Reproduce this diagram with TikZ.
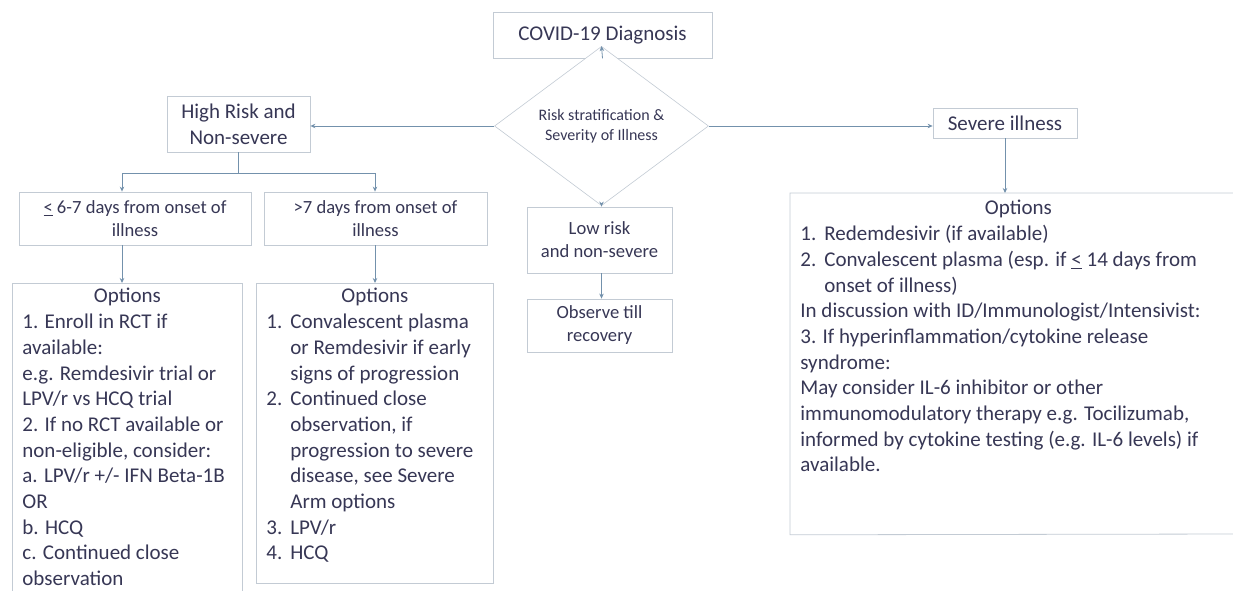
\documentclass[tikz,border=0pt]{standalone}
\usepackage{fontspec}
\setmainfont{Carlito}
\usetikzlibrary{shapes.geometric,arrows.meta}
\definecolor{txtcol}{RGB}{55,55,85}
\definecolor{boxcol}{RGB}{195,203,212}
\definecolor{linecol}{RGB}{115,145,172}
\newcommand\optfont{\fontsize{21}{25.7}\selectfont\color{txtcol}}
\newcommand\num[1]{\makebox[24pt][l]{#1}}
\begin{document}
\begin{tikzpicture}[x=1pt,y=-1pt,
  box/.style={draw=boxcol, line width=0.8pt, fill=white, text=txtcol, align=center, inner sep=0pt},
  big/.style={font=\fontsize{21}{25.7}\selectfont},
  mid/.style={font=\fontsize{18.6}{23}\selectfont},
  optbox/.style={box, anchor=north west, inner xsep=10pt, inner ysep=0pt},
  link/.style={draw=linecol, line width=0.8pt},
  arr/.style={link, -{Stealth[length=5pt,width=4.5pt]}}]
  \useasboundingbox (0,0) rectangle (1233,591);
  % diagnosis and triage
  \node[box, big, minimum width=219pt, minimum height=46pt] (covid) at (602.5,35) {COVID-19 Diagnosis};
  \node[box, diamond, line width=0.6pt, minimum width=214pt, minimum height=103pt,
        font=\fontsize{16}{20}\selectfont] (risk) at (601.5,126) {Risk stratification \&\\Severity of Illness};
  \node[box, big, minimum width=143pt, minimum height=56pt] (hr) at (238.5,124) {High Risk and\\Non-severe};
  \node[box, big, minimum width=144pt, minimum height=30pt] (sev) at (1005,123) {Severe illness};
  % high risk branch
  \node[box, mid, minimum width=232pt, minimum height=53pt] (dl) at (135,218.5) {\underline{<} 6-7 days from onset of\\illness};
  \node[box, mid, minimum width=223pt, minimum height=53pt] (dr) at (375.5,218.5) {>7 days from onset of\\illness};
  % low risk branch
  \node[box, mid, minimum width=145pt, minimum height=66pt] (low) at (599.5,240) {Low risk\\and non-severe};
  \node[box, mid, minimum width=145pt, minimum height=53pt] (obs) at (599.5,325.5) {Observe till\\recovery};
  % options
  \node[optbox] (ol) at (12,283) {\parbox[t][330pt][t]{210pt}{\optfont\vspace*{5pt}%
    {\centering Options\par}\raggedright
    1. Enroll in RCT if\\
    available:\\
    e.g. Remdesivir trial or\\
    LPV/r vs HCQ trial\\
    2. If no RCT available or\\
    non-eligible, consider:\\
    a. LPV/r +/- IFN Beta-1B\\
    OR\\
    b. HCQ\\
    c. Continued close\\
    observation}};
  \node[optbox] (om) at (256,283) {\parbox[t][300pt][t]{217pt}{\optfont\vspace*{5pt}%
    {\centering Options\par}\raggedright
    \num{1.}Convalescent plasma\\
    \hspace*{24pt}or Remdesivir if early\\
    \hspace*{24pt}signs of progression\\
    \num{2.}Continued close\\
    \hspace*{24pt}observation, if\\
    \hspace*{24pt}progression to severe\\
    \hspace*{24pt}disease, see Severe\\
    \hspace*{24pt}Arm options\\
    \num{3.}LPV/r\\
    \num{4.}HCQ}};
  % severe options box runs off the right edge
  \node[optbox, draw=none] (os) at (790,193) {\parbox[t][341pt][t]{436pt}{\optfont\vspace*{7pt}%
    {\centering Options\par}\raggedright
    \num{1.}Redemdesivir (if available)\\
    \num{2.}Convalescent plasma (esp. if \underline{<} 14 days from\\
    \hspace*{24pt}onset of illness)\\
    In discussion with ID/Immunologist/Intensivist:\\
    3. If hyperinflammation/cytokine release\\
    syndrome:\\
    May consider IL-6 inhibitor or other\\
    immunomodulatory therapy e.g. Tocilizumab,\\
    informed by cytokine testing (e.g. IL-6 levels) if\\
    available.}};
  \draw[boxcol, line width=0.8pt] (1240,193) -- (os.north west) -- (os.south west) -- (1240,534);
  % connectors
  \draw[arr] (covid.south) -- (risk.north);
  \draw[arr] (risk.west) -- (risk.west -| hr.east);
  \draw[arr] (risk.east) -- (risk.east -| sev.west);
  \draw[arr] (risk.south) -- (risk.south |- low.north);
  \draw[arr] (risk.south |- low.south) -- (risk.south |- obs.north);
  \draw[arr] (sev.south) -- (sev.south |- os.north);
  \coordinate (jl) at (122,173);
  \coordinate (jr) at (375,173);
  \draw[link] (hr.south) -- (hr.south |- jl);
  \draw[link] (jl) -- (jr);
  \draw[arr] (jl) -- (jl |- dl.north);
  \draw[arr] (jr) -- (jr |- dr.north);
  \draw[arr] (jl |- dl.south) -- (jl |- ol.north);
  \draw[arr] (jr |- dr.south) -- (jr |- om.north);
\end{tikzpicture}
\end{document}
